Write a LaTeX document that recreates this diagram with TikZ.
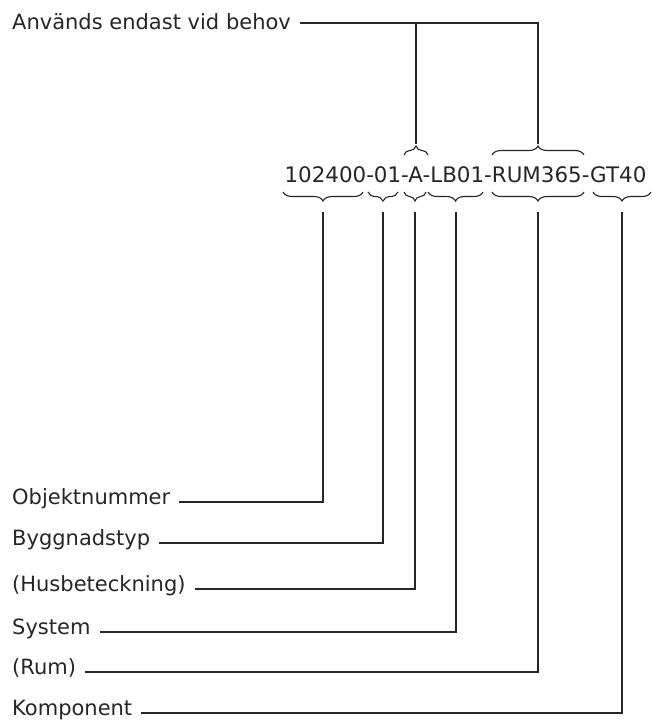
\documentclass[tikz,border=0pt]{standalone}
\usepackage{fontspec}
\setmainfont{DejaVu Sans}
\usetikzlibrary{decorations.pathreplacing,calc}
\definecolor{ink}{HTML}{262626}
\tikzset{
  lbl/.style={anchor=base west, inner xsep=9pt, inner ysep=0pt, text depth=0pt, text height=4pt, text=ink, font=\fontsize{21}{25}\selectfont},
  toplbl/.style={lbl, text height=12pt},
  conn/.style={draw=ink, line width=1.3pt},
  brc/.style={draw=ink, line width=1.1pt, decorate, decoration={brace, amplitude=9pt}},
  code/.style={anchor=base, inner sep=0pt, text=ink, font=\fontsize{21.4}{25}\selectfont}
}
\begin{document}
\begin{tikzpicture}[x=1pt,y=-1pt]
\useasboundingbox (0,0) rectangle (652,720);
% code
\node[code] (code) at (465.5,182) {102400-01-A-LB01-RUM365-GT40};
% under braces (pointing down)
\draw[brc] (363,192) -- (283,192);
\draw[brc] (398,192) -- (368,192);
\draw[brc] (426,192) -- (404,192);
\draw[brc] (483,192) -- (428,192);
\draw[brc] (584,192) -- (492,192);
\draw[brc] (651,192) -- (593,192);
% over braces (pointing up)
\draw[brc] (404,155) -- (428,155);
\draw[brc] (492,155) -- (584,155);
% connector ends
\coordinate (b1) at (323,212);
\coordinate (b2) at (383,212);
\coordinate (b3) at (415,212);
\coordinate (b4) at (456,212);
\coordinate (b5) at (538,212);
\coordinate (b6) at (622,212);
\coordinate (u1) at (416,144);
\coordinate (u2) at (538,144);
% labels
\node[toplbl] (top) at (3,29) {Används endast vid behov};
\node[lbl] (obj) at (3,504) {Objektnummer};
\node[lbl] (byg) at (3,545) {Byggnadstyp};
\node[lbl] (hus) at (3,591) {(Husbeteckning)};
\node[lbl] (sys) at (3,634) {System};
\node[lbl] (rum) at (3,674) {(Rum)};
\node[lbl] (kom) at (3,715) {Komponent};
% connectors
\draw[conn] (top.east) -| (u2);
\draw[conn] (u1) -- (u1 |- top.east);
\draw[conn] (obj.east) -| (b1);
\draw[conn] (byg.east) -| (b2);
\draw[conn] (hus.east) -| (b3);
\draw[conn] (sys.east) -| (b4);
\draw[conn] (rum.east) -| (b5);
\draw[conn] (kom.east) -| (b6);
\end{tikzpicture}
\end{document}
